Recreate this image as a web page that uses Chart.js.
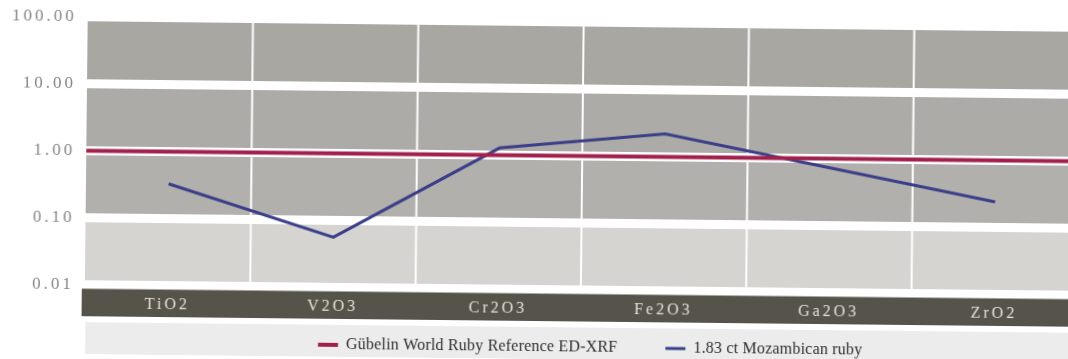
<!DOCTYPE html>
<html>
<head>
<meta charset="utf-8">
<script src="https://cdn.jsdelivr.net/npm/chart.js@4/dist/chart.umd.min.js"></script>
<style>
  html, body { margin: 0; padding: 0; background: #ffffff; overflow: hidden; width: 1068px; height: 359px; }
  #wrap { position: absolute; left: 0; top: 0; width: 1080px; height: 359px; transform: rotate(0.61deg); transform-origin: 534px 180px; }
  canvas { display: block; }
</style>
</head>
<body>
<div id="wrap"><canvas id="c" width="1080" height="359"></canvas></div>
<script>
// ---- data ----
const categories = ['TiO2', 'V2O3', 'Cr2O3', 'Fe2O3', 'Ga2O3', 'ZrO2'];
const referenceValues = [1, 1, 1, 1, 1, 1];
const rubyValues = [0.33, 0.056, 1.28, 2.2, 0.73, 0.24];
const yTickValues = [100, 10, 1, 0.1, 0.01];
const seriesLabels = ['Gübelin World Ruby Reference ED-XRF', '1.83 ct Mozambican ruby'];

// ---- style ----
const bandColors = ['#a9a7a2', '#adaba7', '#b2b0ac', '#d5d4d1'];
const serif = "'Liberation Serif', 'DejaVu Serif', serif";
const AXIS_SPACING = '3px';
const LEGEND_SPACING = '0.2px';

const refData = [{ x: -0.5, y: referenceValues[0] }]
  .concat(referenceValues.map((v, i) => ({ x: i, y: v })))
  .concat([{ x: categories.length - 0.5, y: referenceValues[referenceValues.length - 1] }]);
const rubyData = rubyValues.map((v, i) => ({ x: i, y: v }));

function setSpacing(chart, sp) {
  const ctx = chart.ctx;
  if ('letterSpacing' in ctx) {
    ctx.letterSpacing = sp;
  } else {
    chart.canvas.style.letterSpacing = sp;
    ctx.font = ctx.font;
  }
}

const decorPlugin = {
  id: 'decor',
  beforeLayout(chart) { setSpacing(chart, LEGEND_SPACING); },
  afterLayout(chart) {
    const L = chart.legend;
    L.top = chart.chartArea.bottom + 1.5;
    L.bottom = chart.height;
    L.height = L.bottom - L.top;
    L.left += 10; L.right += 10;
  },
  beforeDraw(chart) {
    const { ctx, chartArea: a, scales: { x, y } } = chart;
    ctx.save();
    for (let i = 0; i < yTickValues.length - 1; i++) {
      const t = y.getPixelForValue(yTickValues[i]) + 4.5;
      const b = y.getPixelForValue(yTickValues[i + 1]) - 4.5;
      ctx.fillStyle = bandColors[i];
      ctx.fillRect(a.left, t, a.right - a.left, b - t);
    }
    ctx.fillStyle = '#ffffff';
    for (let i = 0; i < categories.length - 1; i++) {
      const px = x.getPixelForValue(i + 0.5);
      ctx.fillRect(px - 1, a.top, 2, a.bottom - a.top);
    }
    ctx.fillStyle = '#56534a';
    ctx.fillRect(a.left - 3, a.bottom + 4, chart.width - a.left + 3, 27.5);
    ctx.fillStyle = '#ececec';
    ctx.fillRect(a.left + 1, a.bottom + 37.5, chart.width - a.left, chart.height - a.bottom - 37.5);
    ctx.restore();
    setSpacing(chart, LEGEND_SPACING);
  },
  afterDatasetsDraw(chart) { setSpacing(chart, AXIS_SPACING); },
  afterDraw(chart) { setSpacing(chart, '0px'); }
};

new Chart(document.getElementById('c'), {
  type: 'line',
  data: {
    datasets: [
      { label: seriesLabels[0], data: refData, borderColor: '#a2204c', backgroundColor: '#a2204c', borderWidth: 4, pointRadius: 0, tension: 0, fill: false },
      { label: seriesLabels[1], data: rubyData, borderColor: '#3b3e88', backgroundColor: '#3b3e88', borderWidth: 3, pointRadius: 0, tension: 0, fill: false }
    ]
  },
  options: {
    responsive: false,
    animation: false,
    events: [],
    layout: { padding: { top: 21.5, left: 0, right: 2, bottom: 0 } },
    scales: {
      x: {
        type: 'linear', min: -0.5, max: categories.length - 0.5,
        afterBuildTicks: s => { s.ticks = categories.map((_, i) => ({ value: i })); },
        afterFit: s => { s.height = 36.5; },
        grid: { display: false, drawTicks: false },
        border: { display: false },
        ticks: {
          z: 1, autoSkip: false, maxRotation: 0, minRotation: 0, padding: 10,
          color: '#e8e3d9', font: { family: serif, size: 16 },
          callback: v => categories[v]
        }
      },
      y: {
        type: 'logarithmic', min: 0.01, max: 100,
        afterBuildTicks: s => { s.ticks = yTickValues.map(v => ({ value: v })); },
        afterFit: s => { s.width = 86; },
        grid: { display: false, drawTicks: false },
        border: { display: false },
        ticks: {
          z: 1, padding: 11, color: '#858585', font: { family: serif, size: 17 },
          callback: v => Number(v).toFixed(2)
        }
      }
    },
    plugins: {
      legend: {
        position: 'bottom', fullSize: false, align: 'center', maxHeight: 33,
        labels: {
          usePointStyle: true, pointStyle: 'line', pointStyleWidth: 20,
          padding: 48, color: '#2e2e2e', font: { family: serif, size: 16 }
        }
      },
      tooltip: { enabled: false }
    }
  },
  plugins: [decorPlugin]
});
</script>
</body>
</html>
